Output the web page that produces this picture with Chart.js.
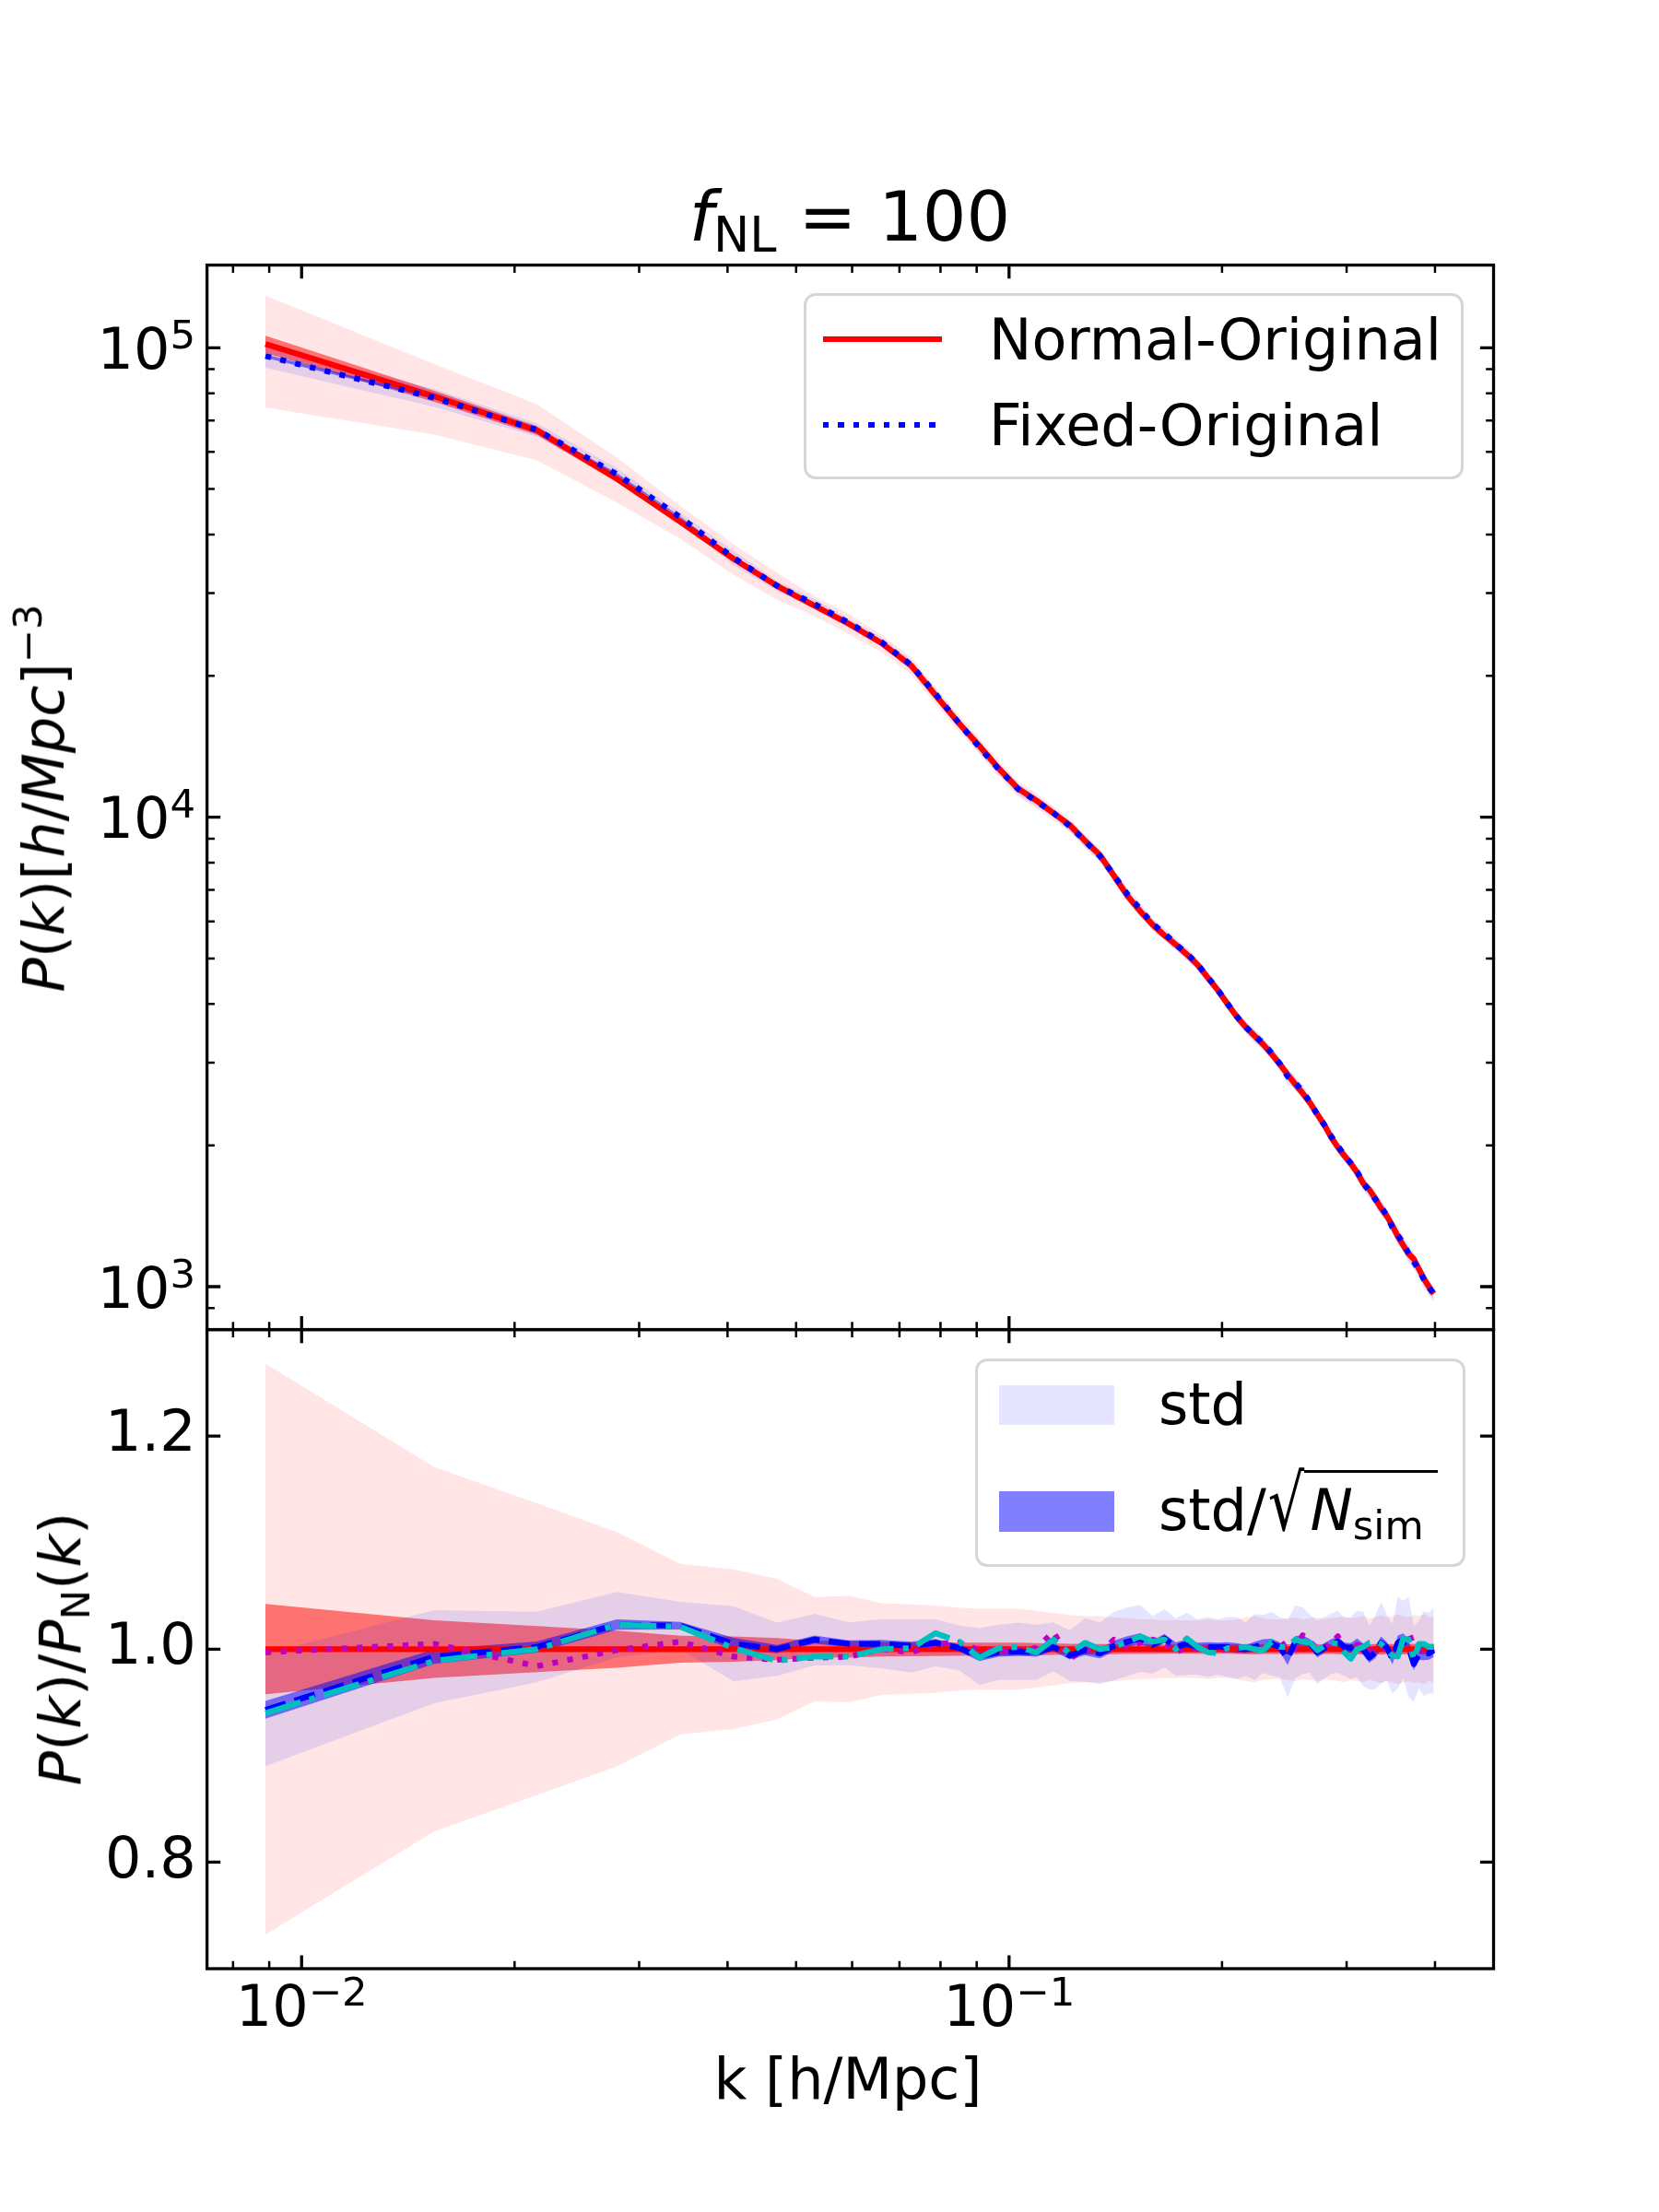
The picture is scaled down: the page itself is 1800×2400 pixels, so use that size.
<!DOCTYPE html>
<html>
<head>
<meta charset="utf-8">
<script src="https://cdn.jsdelivr.net/npm/chart.js@4.4.1/dist/chart.umd.min.js"></script>
<style>
    body { margin: 0; background: #fff; }
    #page { position: relative; width: 1800px; height: 2400px; background: #fff; font-family: "DejaVu Sans", sans-serif; color: #000; overflow: hidden; }
    canvas { position: absolute; left: 0; top: 0; }
    .txt { position: absolute; white-space: nowrap; line-height: 1.164; }
    .txt sub { font-size: 0.7em; vertical-align: -0.22em; line-height: 0; }
    .txt sup { font-size: 0.7em; vertical-align: 0.55em; line-height: 0; }
    .box { position: absolute; box-sizing: border-box; border: 3.3px solid rgba(204, 204, 204, 0.8); border-radius: 13px; background: rgba(255, 255, 255, 0.8); }
    .swatch { position: absolute; }
    .rad { display: inline-block; transform: scaleY(1.35); transform-origin: 50% 57.5px; margin-left: 2px; }
    .under { border-top: 3px solid #000; padding: 4px 15px 0 6px; }
</style>
</head>
<body>
<div id="page">
    <canvas id="pk" width="1800" height="2400"></canvas>
    <canvas id="ratio" width="1800" height="2400"></canvas>

    <div class="txt" style="left:922px; top:192px; font-size:75px; transform:translateX(-50%);"><i>f</i><sub>NL</sub> = 100</div>

    <div class="txt" style="left:48px; top:866px; font-size:62px; transform:translate(-50%,-50%) rotate(-90deg);"><i>P</i>(<i>k</i>)[<i>h</i>/<i>Mpc</i>]<sup>−3</sup></div>
    <div class="txt" style="left:66px; top:1789px; font-size:62px; transform:translate(-50%,-50%) rotate(-90deg);"><i>P</i>(<i>k</i>)/<i>P</i><sub>N</sub>(<i>k</i>)</div>
    <div class="txt" style="left:920px; top:2220px; font-size:62px; transform:translateX(-50%);">k [h/Mpc]</div>

    <!-- legend, upper panel -->
    <div class="box" style="left:872px; top:318px; width:716px; height:202px;"></div>
    <div class="swatch" style="left:893px; top:365px; width:129px; height:6.25px; background:#ff0000;"></div>
    <div class="swatch" style="left:893px; top:457.5px; width:129px; height:6.25px; background:repeating-linear-gradient(to right, #0000ff 0 6.25px, transparent 6.25px 16.5px);"></div>
    <div class="txt" style="left:1073px; top:333px; font-size:62px;">Normal-Original</div>
    <div class="txt" style="left:1073px; top:425.5px; font-size:62px;">Fixed-Original</div>

    <!-- legend, lower panel -->
    <div class="box" style="left:1058px; top:1474px; width:532px; height:226px;"></div>
    <div class="swatch" style="left:1084px; top:1503px; width:125px; height:43px; background:rgba(0,0,255,0.1);"></div>
    <div class="swatch" style="left:1084px; top:1618px; width:125px; height:44px; background:rgba(0,0,255,0.5);"></div>
    <div class="txt" style="left:1257px; top:1487.5px; font-size:62px;">std</div>
    <div class="txt" style="left:1257px; top:1603px; font-size:62px;">std/<span class="rad">√</span><span class="under"><i>N</i><sub>sim</sub></span></div>
</div>

<script>
// k bins [h/Mpc]
const kBins = [
    0.00889, 0.0154, 0.0215, 0.0279, 0.0343, 0.0408, 0.0470, 0.0531, 0.0594, 0.0660, 0.0728, 0.0787, 0.0851, 0.0908, 0.0967,
    0.1030, 0.1093, 0.1155, 0.1218, 0.1281, 0.1344, 0.1407, 0.1470, 0.1533, 0.1596, 0.1658, 0.1721, 0.1784, 0.1847, 0.1910, 0.1973,
    0.2036, 0.2098, 0.2161, 0.2224, 0.2287, 0.2350, 0.2413, 0.2476, 0.2538, 0.2601, 0.2664, 0.2727, 0.2790, 0.2853, 0.2916, 0.2978,
    0.3041, 0.3104, 0.3167, 0.3230, 0.3293, 0.3356, 0.3418, 0.3481, 0.3544, 0.3607, 0.3670, 0.3733, 0.3796, 0.3858, 0.3921, 0.3984
];

// mean P(k) of the Normal-Original set
const pNormal = [
    101800, 78800, 66700, 52600, 42600, 35500, 31100, 28200, 25800, 23500, 21000, 18200, 15800, 14180, 12700,
    11500, 10850, 10200, 9630, 8900, 8300, 7500, 6800, 6300, 5900, 5600, 5350, 5100, 4850, 4550, 4280,
    4000, 3760, 3570, 3420, 3280, 3130, 2980, 2830, 2700, 2580, 2460, 2330, 2210, 2080, 1980, 1900,
    1830, 1750, 1660, 1610, 1540, 1470, 1416, 1350, 1280, 1225, 1175, 1145, 1090, 1040, 1000, 966
];

// ratios to P_N(k)
const ratioFixed = [
    0.943, 0.993, 1.002, 1.023, 1.022, 1.005, 1.000, 1.009, 1.005, 1.005, 1.003, 1.006, 1.001, 0.993, 0.997,
    0.998, 0.997, 1.002, 0.994, 0.999, 0.996, 1.003, 1.007, 1.010, 1.004, 1.010, 1.002, 1.005, 1.002, 1.002, 1.002,
    1.002, 1.001, 1.000, 1.002, 1.005, 1.005, 1.002, 0.991, 1.007, 1.008, 1.005, 0.997, 1.001, 1.005, 1.007, 1.002,
    1.001, 1.005, 1.000, 0.992, 0.997, 1.006, 1.002, 0.991, 1.006, 1.009, 1.002, 0.986, 0.995, 0.996, 0.996, 0.999
];
const ratioCyan = [
    0.940, 0.989, 1.000, 1.023, 1.021, 1.001, 0.989, 0.993, 0.993, 1.000, 1.001, 1.015, 1.007, 0.992, 1.001,
    1.002, 0.997, 1.009, 0.996, 1.006, 1.000, 1.002, 1.007, 1.012, 1.007, 1.009, 1.000, 1.010, 1.002, 0.997, 0.996,
    1.001, 1.001, 1.002, 1.000, 0.999, 1.007, 1.002, 1.002, 1.009, 1.007, 1.006, 0.999, 1.003, 1.006, 1.005, 0.997,
    0.991, 1.000, 1.002, 1.006, 1.007, 1.005, 1.000, 0.994, 0.993, 1.010, 1.009, 0.990, 1.005, 1.005, 1.002, 1.002
];
const ratioMagenta = [
    0.997, 1.005, 0.984, 0.999, 1.007, 0.993, 0.990, 0.992, 0.993, 1.000, 0.997, 1.005, 1.006, 0.999, 0.998,
    0.999, 1.001, 1.016, 0.991, 1.000, 0.996, 1.009, 1.002, 1.006, 1.009, 1.006, 0.997, 1.002, 1.000, 1.001, 0.999,
    1.000, 0.999, 1.001, 1.002, 1.003, 1.006, 1.002, 1.007, 1.000, 1.013, 1.007, 1.000, 1.002, 1.005, 1.012, 1.001,
    0.999, 1.004, 1.002, 0.997, 1.002, 1.001, 1.000, 1.002, 0.997, 1.002, 1.016, 1.003, 0.999, 1.000, 0.999, 1.001
];

// relative scatter between simulations
const stdNormal = [
    0.268, 0.171, 0.137, 0.110, 0.080, 0.075, 0.066, 0.049, 0.050, 0.043, 0.042, 0.041, 0.039, 0.038, 0.038,
    0.038, 0.036, 0.034, 0.032, 0.031, 0.031, 0.030, 0.029, 0.028, 0.028, 0.027, 0.027, 0.027, 0.027, 0.028, 0.027,
    0.027, 0.028, 0.030, 0.031, 0.029, 0.028, 0.028, 0.029, 0.030, 0.028, 0.029, 0.030, 0.028, 0.029, 0.030, 0.031,
    0.029, 0.030, 0.031, 0.029, 0.030, 0.032, 0.030, 0.031, 0.033, 0.031, 0.030, 0.032, 0.031, 0.033, 0.030, 0.031
];
const stdFixed = [
    0.056, 0.044, 0.033, 0.030, 0.022, 0.035, 0.025, 0.024, 0.020, 0.023, 0.025, 0.022, 0.021, 0.027, 0.026,
    0.027, 0.026, 0.023, 0.024, 0.030, 0.029, 0.032, 0.032, 0.031, 0.027, 0.027, 0.027, 0.029, 0.026, 0.028, 0.026,
    0.028, 0.029, 0.025, 0.031, 0.027, 0.030, 0.028, 0.037, 0.034, 0.031, 0.027, 0.030, 0.029, 0.028, 0.029, 0.027,
    0.029, 0.031, 0.035, 0.030, 0.035, 0.038, 0.031, 0.033, 0.043, 0.036, 0.047, 0.036, 0.032, 0.040, 0.038, 0.040
];
const NSIM = 40;

// axis ticks
const xMajor = [0.01, 0.1];
const xMinor = [0.008, 0.009, 0.02, 0.03, 0.04, 0.05, 0.06, 0.07, 0.08, 0.09, 0.2, 0.3, 0.4];
const pkMajor = [1e3, 1e4, 1e5];
const pkMinor = [900, 2e3, 3e3, 4e3, 5e3, 6e3, 7e3, 8e3, 9e3, 2e4, 3e4, 4e4, 5e4, 6e4, 7e4, 8e4, 9e4];
const ratioMajor = [0.8, 1.0, 1.2];

const X_MIN = 0.00735, X_MAX = 0.484;
const FONT = { family: "DejaVu Sans", size: 62 };

// "10" with a raised exponent, like matplotlib mathtext
function drawPow(ctx, v, x, base, align) {
    const e = String(Math.round(Math.log10(v))).replace("-", "\u2212");
    const big = FONT.size + 'px "DejaVu Sans"';
    const small = (FONT.size * 0.7).toFixed(1) + 'px "DejaVu Sans"';
    ctx.font = big;
    const w1 = ctx.measureText("10").width;
    ctx.font = small;
    const w2 = ctx.measureText(e).width;
    const x0 = align === "right" ? x - w1 - w2 : x - (w1 + w2) / 2;
    ctx.textAlign = "left";
    ctx.textBaseline = "alphabetic";
    ctx.fillStyle = "#000";
    ctx.font = big;
    ctx.fillText("10", x0, base);
    ctx.font = small;
    ctx.fillText(e, x0 + w1, base - 22);
}

function pts(ys) {
    return kBins.map((k, i) => ({ x: k, y: ys[i] }));
}

function band(center, sig, scale, color, order) {
    const base = { borderWidth: 0, borderColor: "rgba(0,0,0,0)", pointRadius: 0, pointHitRadius: 0, order };
    return [
        { ...base, data: pts(center.map((c, i) => c * (1 - sig[i] * scale))), fill: false },
        { ...base, data: pts(center.map((c, i) => c * (1 + sig[i] * scale))), fill: "-1", backgroundColor: color },
    ];
}

function line(ys, color, dash, order) {
    return {
        data: pts(ys), borderColor: color, borderWidth: 6.25, borderDash: dash,
        borderCapStyle: "butt", borderJoinStyle: "round", pointRadius: 0, pointHitRadius: 0,
        fill: false, tension: 0, order,
    };
}

// frame, inward ticks on all four sides, power-of-ten labels
const frameTicks = {
    id: "frameTicks",
    afterDraw(chart, args, o) {
        const { ctx, chartArea: a } = chart;
        const xs = chart.scales.x, ys = chart.scales.y;
        ctx.save();
        ctx.strokeStyle = "#000";
        const mark = (xv, yv, len, w) => {
            ctx.lineWidth = w;
            ctx.beginPath();
            xv.forEach((v) => {
                const p = xs.getPixelForValue(v);
                if (p < a.left || p > a.right) return;
                ctx.moveTo(p, a.bottom); ctx.lineTo(p, a.bottom - len);
                ctx.moveTo(p, a.top); ctx.lineTo(p, a.top + len);
            });
            yv.forEach((v) => {
                const p = ys.getPixelForValue(v);
                if (p < a.top || p > a.bottom) return;
                ctx.moveTo(a.left, p); ctx.lineTo(a.left + len, p);
                ctx.moveTo(a.right, p); ctx.lineTo(a.right - len, p);
            });
            ctx.stroke();
        };
        mark(o.xMajor, o.yMajor, 14.6, 3.3);
        mark(o.xMinor, o.yMinor, 8.3, 2.5);
        ctx.lineWidth = 3.3;
        ctx.strokeRect(a.left, a.top, a.right - a.left, a.bottom - a.top);

        (o.xLabels || []).forEach((v) => drawPow(ctx, v, xs.getPixelForValue(v), a.bottom + 62, "center"));
        (o.yLabels || []).forEach((v) => drawPow(ctx, v, a.left - 12.6, ys.getPixelForValue(v) + 22.6, "right"));
        ctx.restore();
    },
};

const pFixed = pNormal.map((p, i) => p * ratioFixed[i]);
const ratioNormal = pNormal.map((p) => p / p);
const sem = 1 / Math.sqrt(NSIM);

const yAxisCommon = {
    bounds: "data",
    position: "left",
    afterFit: (s) => { s.width = 224.6; },
    grid: { display: false, drawTicks: false },
    border: { display: false },
};

// upper panel
new Chart(document.getElementById("pk"), {
    type: "line",
    data: {
        datasets: [
            ...band(pNormal, stdNormal, 1, "rgba(255,0,0,0.1)", 8),
            ...band(pNormal, stdNormal, sem, "rgba(255,0,0,0.5)", 7),
            ...band(pFixed, stdFixed, 1, "rgba(0,0,255,0.1)", 6),
            ...band(pFixed, stdFixed, sem, "rgba(0,0,255,0.5)", 5),
            line(pNormal, "#ff0000", [], 2),
            line(pFixed, "#0000ff", [6.25, 10.3], 1),
        ],
    },
    options: {
        responsive: false,
        animation: false,
        devicePixelRatio: 1,
        layout: { padding: { top: 287.6, bottom: 957.4, left: 0, right: 179.5 } },
        plugins: {
            legend: { display: false },
            tooltip: { enabled: false },
            filler: { drawTime: "beforeDatasetDraw" },
            frameTicks: { xMajor, xMinor, yMajor: pkMajor, yMinor: pkMinor, yLabels: pkMajor },
        },
        scales: {
            x: { type: "logarithmic", display: false, min: X_MIN, max: X_MAX, bounds: "data" },
            y: {
                ...yAxisCommon,
                type: "logarithmic",
                min: 810,
                max: 150000,
                afterBuildTicks: (s) => { s.ticks = pkMajor.map((v) => ({ value: v })); },
                ticks: { display: false },
            },
        },
    },
    plugins: [frameTicks],
});

// lower panel
new Chart(document.getElementById("ratio"), {
    type: "line",
    data: {
        datasets: [
            ...band(ratioNormal, stdNormal, 1, "rgba(255,0,0,0.1)", 8),
            ...band(ratioNormal, stdNormal, sem, "rgba(255,0,0,0.5)", 7),
            ...band(ratioFixed, stdFixed, 1, "rgba(0,0,255,0.1)", 6),
            ...band(ratioFixed, stdFixed, sem, "rgba(0,0,255,0.5)", 5),
            line(ratioNormal, "#ff0000", [], 4),
            line(ratioMagenta, "#bf00bf", [6.25, 10.3], 3),
            line(ratioFixed, "#0000ff", [23.1, 10], 2),
            line(ratioCyan, "#00bfbf", [40, 10, 6.25, 10], 1),
        ],
    },
    options: {
        responsive: false,
        animation: false,
        devicePixelRatio: 1,
        layout: { padding: { top: 1442.6, bottom: 164, left: 0, right: 179.5 } },
        plugins: {
            legend: { display: false },
            tooltip: { enabled: false },
            filler: { drawTime: "beforeDatasetDraw" },
            frameTicks: { xMajor, xMinor, yMajor: ratioMajor, yMinor: [], xLabels: xMajor },
        },
        scales: {
            x: {
                type: "logarithmic",
                min: X_MIN,
                max: X_MAX,
                bounds: "data",
                position: "bottom",
                afterFit: (s) => { s.height = 100; },
                afterBuildTicks: (s) => { s.ticks = xMajor.map((v) => ({ value: v })); },
                ticks: { display: false },
                grid: { display: false, drawTicks: false },
                border: { display: false },
            },
            y: {
                ...yAxisCommon,
                type: "linear",
                min: 0.7,
                max: 1.3,
                afterBuildTicks: (s) => { s.ticks = ratioMajor.map((v) => ({ value: v })); },
                ticks: { callback: (v) => v.toFixed(1), font: FONT, color: "#000", padding: 12 },
            },
        },
    },
    plugins: [frameTicks],
});
</script>
</body>
</html>
